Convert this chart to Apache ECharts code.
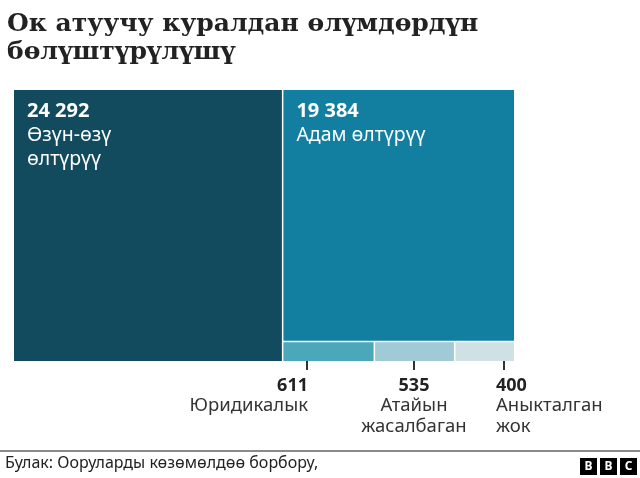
<!DOCTYPE html>
<html>
<head>
<meta charset="utf-8">
<script src="https://cdn.jsdelivr.net/npm/echarts@6/dist/echarts.min.js"></script>
<style>
  html, body { margin: 0; padding: 0; background: #fff; }
  #chart { width: 640px; height: 478px; }
</style>
</head>
<body>
<div id="chart"></div>
<script>
// data
const categories = ['Өзүн-өзү\nөлтүрүү', 'Адам өлтүрүү', 'Юридикалык', 'Атайын\nжасалбаган', 'Аныкталган\nжок'];
const values = [24292, 19384, 611, 535, 400];
const colors = ['#134b5e', '#137fa0', '#4aa8ba', '#9fcad6', '#d0e1e6'];

const titleText = 'Ок атуучу куралдан өлүмдөрдүн\nбөлүштүрүлүшү';
const sourceText = 'Булак: Ооруларды көзөмөлдөө борбору,';

const fmt = v => String(v).replace(/\B(?=(\d{3})+(?!\d))/g, ' ');
const SANS = '"Noto Sans", "Open Sans", sans-serif';

const leaf = i => ({ name: categories[i], value: values[i], itemStyle: { color: colors[i] } });
const treeData = [
  leaf(0),
  {
    name: 'group',
    children: [
      leaf(1),
      { name: 'small', children: [leaf(2), leaf(3), leaf(4)] }
    ]
  }
];

// annotations under the three small boxes
const notes = [
  { i: 2, tickX: 307, textX: 308, align: 'right' },
  { i: 3, tickX: 414, textX: 414, align: 'center' },
  { i: 4, tickX: 504, textX: 496, align: 'left' }
];

const graphic = [];
notes.forEach(n => {
  graphic.push({
    type: 'line', silent: true,
    shape: { x1: n.tickX, y1: 352, x2: n.tickX, y2: 370 },
    style: { stroke: '#333', lineWidth: 2 }
  });
  graphic.push({
    type: 'text', silent: true, x: n.textX, y: 385.5,
    style: { text: fmt(values[n.i]), font: 'bold 18px ' + SANS, fill: '#222', align: n.align, verticalAlign: 'middle' }
  });
  graphic.push({
    type: 'text', silent: true, x: n.textX, y: 395,
    style: { text: categories[n.i], font: '18.5px ' + SANS, fill: '#333', align: n.align, verticalAlign: 'top', lineHeight: 21 }
  });
});

// footer
graphic.push({ type: 'rect', silent: true, shape: { x: 0, y: 450, width: 640, height: 2 }, style: { fill: '#8a8a8a' } });
graphic.push({
  type: 'text', silent: true, x: 5, y: 463,
  style: { text: sourceText, font: '16px ' + SANS, fill: '#222', verticalAlign: 'middle' }
});
['B', 'B', 'C'].forEach((ch, k) => {
  graphic.push({ type: 'rect', silent: true, shape: { x: 580 + k * 20, y: 458, width: 17, height: 17 }, style: { fill: '#000' } });
  graphic.push({
    type: 'text', silent: true, x: 588.5 + k * 20, y: 466.5,
    style: { text: ch, font: 'bold 12px ' + SANS, fill: '#fff', align: 'center', verticalAlign: 'middle' }
  });
});

const chart = echarts.init(document.getElementById('chart'));
chart.setOption({
  animation: false,
  title: {
    text: titleText,
    left: 7,
    top: 10,
    padding: 0,
    textStyle: { fontFamily: '"DejaVu Serif", serif', fontSize: 25, fontWeight: 'bold', lineHeight: 28, color: '#222' }
  },
  graphic: graphic,
  series: [{
    type: 'treemap',
    left: 14,
    top: 90,
    width: 500,
    height: 271,
    roam: false,
    nodeClick: false,
    silent: true,
    breadcrumb: { show: false },
    emphasis: { disabled: true },
    itemStyle: { borderWidth: 0, gapWidth: 1.5, borderColor: '#fff' },
    levels: [
      { itemStyle: { borderWidth: 0, gapWidth: 1.5, borderColor: '#fff' } },
      { itemStyle: { borderWidth: 0, gapWidth: 1.5, borderColor: '#fff' } },
      { itemStyle: { borderWidth: 0, gapWidth: 1.5, borderColor: '#fff' } }
    ],
    label: {
      show: true,
      position: [13, 9],
      padding: 0,
      formatter: p => {
        const idx = categories.indexOf(p.name);
        if (idx > 1 || idx < 0) return '';
        return '{num|' + fmt(p.value) + '}\n' + p.name.split('\n').map(s => '{name|' + s + '}').join('\n');
      },
      rich: {
        num: { fontFamily: SANS, fontWeight: 'bold', fontSize: 20, lineHeight: 24, color: '#fff' },
        name: { fontFamily: SANS, fontSize: 19.5, lineHeight: 24, color: '#fff' }
      }
    },
    upperLabel: { show: false },
    data: treeData
  }]
});
</script>
</body>
</html>
